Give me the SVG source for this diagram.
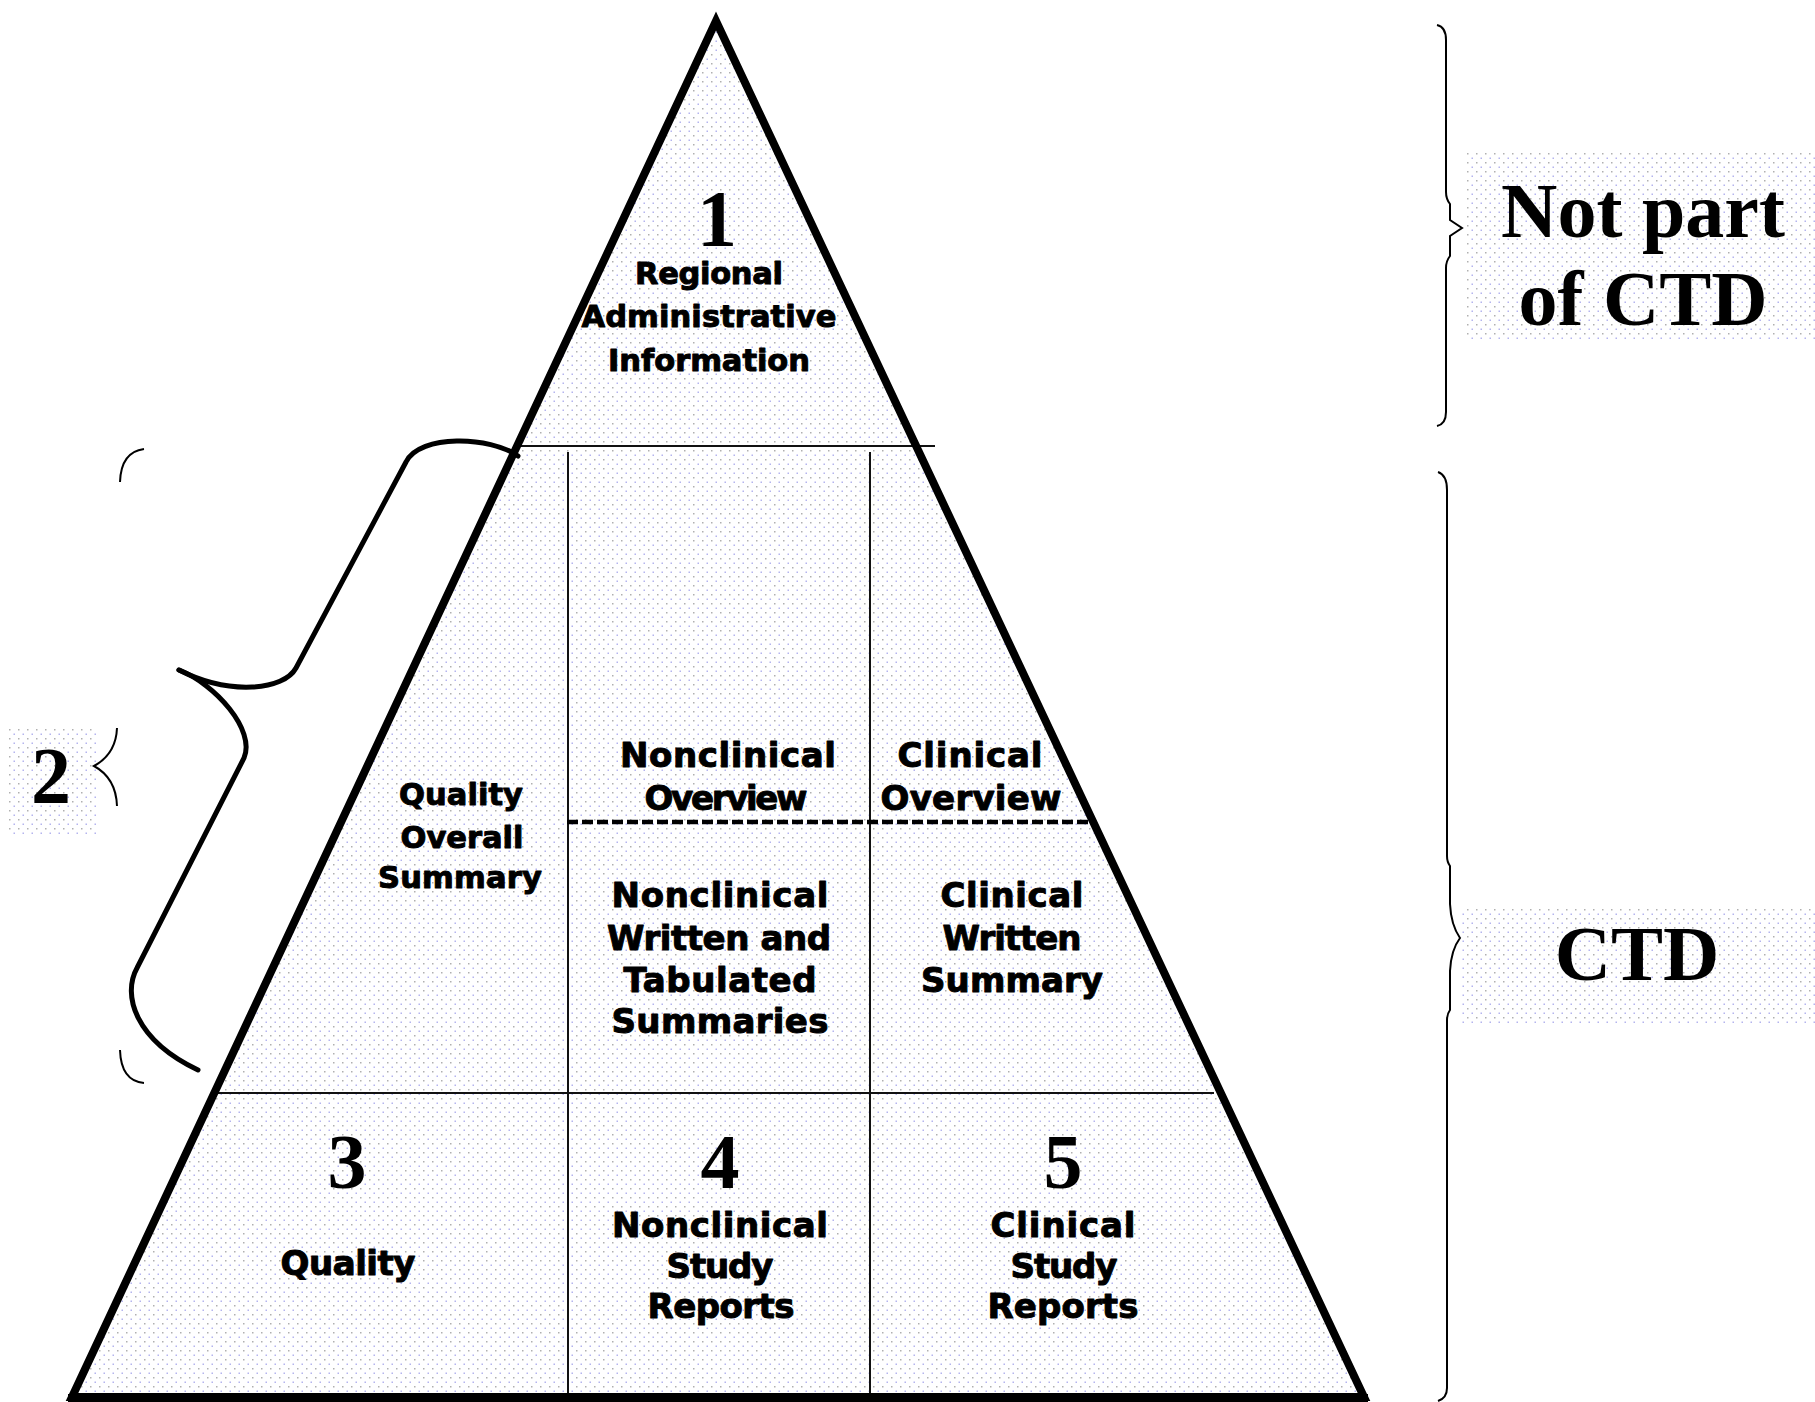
<svg xmlns="http://www.w3.org/2000/svg" width="1815" height="1402" viewBox="0 0 1815 1402">
<style>
.lbl{font-family:"DejaVu Sans",Verdana,sans-serif;font-weight:bold;font-size:34px;text-anchor:middle;fill:#000;stroke:#000;stroke-width:1;stroke-linejoin:round}
.sm{font-size:30.5px}
.num{font-family:"Liberation Serif","Times New Roman",serif;font-weight:bold;text-anchor:middle;fill:#000}
.big{font-family:"Liberation Serif","Times New Roman",serif;font-weight:bold;text-anchor:middle;fill:#000;font-size:78px}
.thin{stroke:#111;stroke-width:2;fill:none}
.brace{stroke:#000;stroke-width:2;fill:none}
</style>
<defs>
<pattern id="dots" width="9" height="9" patternUnits="userSpaceOnUse">
<rect x="0" y="0" width="1.5" height="1.5" fill="#b0b0b0"/>
<rect x="4.5" y="4.5" width="1.5" height="1.5" fill="#b4b4ee"/>
</pattern>
</defs>
<rect width="1815" height="1402" fill="#fff"/>
<g id="backgrounds">
<rect x="1467" y="152" width="348" height="188" fill="url(#dots)"/>
<rect x="1460" y="907" width="355" height="118" fill="url(#dots)"/>
<rect x="7" y="728" width="89" height="109" fill="url(#dots)"/>
</g>
<g id="pyramid">
<polygon points="716,21 1364,1397 72,1397" fill="url(#dots)" stroke="none"/>
<line class="thin" x1="518" y1="446" x2="935" y2="446"/>
<line class="thin" x1="214" y1="1093" x2="1214" y2="1093"/>
<line class="thin" x1="568" y1="452" x2="568" y2="1397"/>
<line class="thin" x1="870" y1="452" x2="870" y2="1397"/>
<line x1="567" y1="822" x2="1093" y2="822" stroke="#000" stroke-width="4.5" stroke-dasharray="11,4"/>
<polygon points="716,21 1364,1397 72,1397" fill="none" stroke="#000" stroke-width="8" stroke-linejoin="miter" stroke-miterlimit="10"/>
<line x1="68" y1="1398" x2="1368" y2="1398" stroke="#000" stroke-width="8"/>
</g>
<g id="connectors">
<path d="M 518 456 C 490 436 420 434 406 462 L 296 668 C 284 690 230 696 179 670" stroke="#000" stroke-width="5" fill="none" stroke-linecap="round"/>
<path d="M 179 670 C 215 684 256 730 244 758 L 137 968 C 122 995 135 1040 198 1070" stroke="#000" stroke-width="5" fill="none" stroke-linecap="round"/>
<path class="brace" d="M 144 449 Q 121 452 120 482"/>
<path class="brace" d="M 117 728 Q 116 754 94 766 Q 116 778 117 806"/>
<path class="brace" d="M 120 1050 Q 121 1081 144 1083"/>
<path class="brace" d="M 1437 25 Q 1446 27 1446 40 L 1446 192 Q 1446 199 1450 204 L 1450 220 L 1462 228 L 1450 236 L 1450 256 Q 1446 261 1446 268 L 1446 412 Q 1446 424 1437 426"/>
<path class="brace" d="M 1438 472 Q 1447 475 1447 490 L 1447 856 Q 1447 862 1450 866 L 1450 904 Q 1451 925 1460 938 Q 1451 950 1450 971 L 1450 1010 Q 1447 1014 1447 1020 L 1447 1388 Q 1447 1398 1438 1401"/>
</g>
<g id="module1">
<text class="num" x="717" y="246" font-size="80">1</text>
<text class="lbl sm" x="709" y="284" textLength="148">Regional</text>
<text class="lbl sm" x="709" y="327" textLength="255">Administrative</text>
<text class="lbl sm" x="709" y="371" textLength="202">Information</text>
</g>
<g id="module2-label">
<text class="num" x="51" y="803" font-size="80">2</text>
</g>
<g id="quality-overall-summary">
<text class="lbl sm" x="461" y="805" textLength="124">Quality</text>
<text class="lbl sm" x="462" y="848" textLength="123">Overall</text>
<text class="lbl sm" x="460" y="888" textLength="164">Summary</text>
</g>
<g id="nonclinical-overview">
<text class="lbl" x="728" y="767" textLength="216">Nonclinical</text>
<text class="lbl" x="726" y="810" textLength="163">Overview</text>
</g>
<g id="clinical-overview">
<text class="lbl" x="970" y="767" textLength="145">Clinical</text>
<text class="lbl" x="971" y="810" textLength="181">Overview</text>
</g>
<g id="nonclinical-summaries">
<text class="lbl" x="720" y="907" textLength="217">Nonclinical</text>
<text class="lbl" x="719" y="950" textLength="224">Written and</text>
<text class="lbl" x="720" y="992" textLength="193">Tabulated</text>
<text class="lbl" x="720" y="1033" textLength="217">Summaries</text>
</g>
<g id="clinical-summary">
<text class="lbl" x="1012" y="907" textLength="143">Clinical</text>
<text class="lbl" x="1012" y="950" textLength="139">Written</text>
<text class="lbl" x="1012" y="992" textLength="182">Summary</text>
</g>
<g id="module3">
<text class="num" x="347" y="1188" font-size="78">3</text>
<text class="lbl" x="348" y="1275" textLength="135">Quality</text>
</g>
<g id="module4">
<text class="num" x="720" y="1188" font-size="78">4</text>
<text class="lbl" x="720" y="1237" textLength="216">Nonclinical</text>
<text class="lbl" x="720" y="1278" textLength="107">Study</text>
<text class="lbl" x="721" y="1318" textLength="147">Reports</text>
</g>
<g id="module5">
<text class="num" x="1063" y="1188" font-size="78">5</text>
<text class="lbl" x="1063" y="1237" textLength="145">Clinical</text>
<text class="lbl" x="1064" y="1278" textLength="107">Study</text>
<text class="lbl" x="1063" y="1318" textLength="151">Reports</text>
</g>
<g id="not-part-of-ctd">
<text class="big" x="1643" y="237">Not part</text>
<text class="big" x="1643" y="325">of CTD</text>
</g>
<g id="ctd">
<text class="big" x="1637" y="980" font-size="76">CTD</text>
</g>
</svg>
